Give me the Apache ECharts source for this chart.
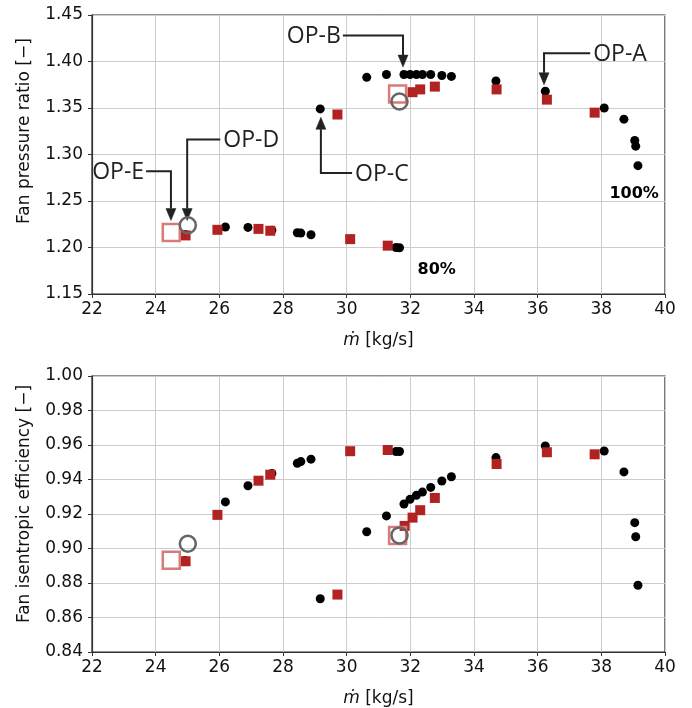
<!DOCTYPE html>
<html><head><meta charset="utf-8">
<script src="https://cdn.jsdelivr.net/npm/echarts@6/dist/echarts.min.js"></script>
<style>html,body{margin:0;padding:0;background:#fff}#c{width:692px;height:708px}</style>
</head><body><div id="c"></div><script>
// ---- data ----
const xTickLabels = ['22','24','26','28','30','32','34','36','38','40'];

// 100 % speed line, black circles (CFD)
const massBlack100 = [29.17, 30.63, 31.25, 31.80, 31.99, 32.19, 32.38, 32.64, 32.99, 33.29, 34.69, 36.24, 38.09, 38.71, 39.05, 39.08, 39.15];
const prBlack100   = [1.349, 1.383, 1.386, 1.386, 1.386, 1.386, 1.386, 1.386, 1.385, 1.384, 1.379, 1.368, 1.350, 1.338, 1.315, 1.309, 1.288];
const effBlack100  = [0.8709, 0.9097, 0.9189, 0.9258, 0.9285, 0.9308, 0.9327, 0.9354, 0.9391, 0.9416, 0.9527, 0.9594, 0.9565, 0.9444, 0.9150, 0.9068, 0.8787];

// 80 % speed line, black circles
const massBlack80 = [24.92, 26.19, 26.90, 27.65, 28.45, 28.56, 28.88, 31.55, 31.66];
const prBlack80   = [1.214, 1.222, 1.2216, 1.2186, 1.2158, 1.2155, 1.2137, 1.2000, 1.1997];
const effBlack80  = [0.8930, 0.9270, 0.9364, 0.9435, 0.9494, 0.9504, 0.9518, 0.9562, 0.9562];

// 100 % speed line, red squares
const massRed100 = [29.71, 31.82, 32.07, 32.31, 32.77, 34.71, 36.29, 37.79];
const prRed100   = [1.343, null, 1.367, 1.370, 1.373, 1.370, 1.359, 1.345];
const effRed100  = [0.8733, 0.9131, 0.9179, 0.9222, 0.9293, 0.9490, 0.9558, 0.9546];

// 80 % speed line, red squares
const massRed80 = [24.94, 25.94, 27.23, 27.60, 30.11, 31.29];
const prRed80   = [1.213, 1.219, 1.220, 1.218, 1.209, 1.202];
const effRed80  = [0.8926, 0.9195, 0.9393, 0.9428, 0.9564, 0.9571];

// highlighted operating points (open markers)
const massOpenSquare = [24.49, 31.60];
const prOpenSquare   = [1.216, 1.365];
const effOpenSquare  = [0.8932, 0.9075];
const massOpenCircle = [25.01, 31.66];
const prOpenCircle   = [1.224, 1.357];
const effOpenCircle  = [0.9028, 0.9076];

// annotations (data units of the upper chart)
const annLabels = ['OP-A', 'OP-B', 'OP-C', 'OP-D', 'OP-E'];
const annStartX = [37.65, 29.88, 30.17, 26.03, 23.70];
const annElbowX = [36.20, 31.77, 29.19, 24.99, 24.48];
const annLineY  = [1.409, 1.428, 1.280, 1.316, 1.282];
const annTipY   = [1.375, 1.394, 1.340, 1.229, 1.229];

const speedLabels = ['100%', '80%'];
const speedLabelX = [39.03, 32.83];
const speedLabelY = [1.258, 1.1765];

// ---- helpers ----
function pts(xs, ys) {
  const out = [];
  for (let i = 0; i < xs.length; i++) if (ys[i] != null) out.push([xs[i], ys[i]]);
  return out;
}

const FONT = 'DejaVu Sans';
function xAx(gi) {
  return {
    type: 'value', gridIndex: gi, min: 22, max: 40, interval: 2,
    axisLine: { show: true, onZero: false, lineStyle: { color: '#333', width: 1.2 } },
    axisTick: { show: true, length: 4, lineStyle: { color: '#333' } },
    axisLabel: { fontSize: 17, color: '#111', fontFamily: FONT, margin: 7,
      formatter: v => xTickLabels[Math.round((v - 22) / 2)] },
    splitLine: { show: true, lineStyle: { color: '#cccccc', width: 1 } },
    name: '{i|ṁ} [kg/s]', nameLocation: 'middle', nameGap: 38,
    nameTextStyle: { fontSize: 17, color: '#111', fontFamily: FONT,
      rich: { i: { fontSize: 17, fontStyle: 'italic', fontFamily: FONT, color: '#111' } } }
  };
}
function yAx(gi, min, max, interval, dec) {
  return {
    type: 'value', gridIndex: gi, min: min, max: max, interval: interval,
    axisLine: { show: true, onZero: false, lineStyle: { color: '#333', width: 1.2 } },
    axisTick: { show: true, length: 4, lineStyle: { color: '#333' } },
    axisLabel: { fontSize: 17, color: '#111', fontFamily: FONT, margin: 9,
      formatter: v => v.toFixed(dec) },
    splitLine: { show: true, lineStyle: { color: '#cccccc', width: 1 } }
  };
}

const blackStyle = { symbol: 'circle', symbolSize: 9, itemStyle: { color: '#000', opacity: 1 } };
const redStyle = { symbol: 'rect', symbolSize: 10, itemStyle: { color: '#b22222', opacity: 1 } };
const sqStyle = { symbol: 'rect', symbolSize: 17, itemStyle: { color: 'rgba(255,255,255,0)', borderColor: '#d97b7b', borderWidth: 2.5, opacity: 1 } };
const ciStyle = { symbol: 'circle', symbolSize: 16, itemStyle: { color: 'rgba(255,255,255,0)', borderColor: '#666', borderWidth: 2.5, opacity: 1 } };

function sc(gi, data, style) {
  return Object.assign({ type: 'scatter', xAxisIndex: gi, yAxisIndex: gi, data: data,
    silent: true, emphasis: { disabled: true } }, style);
}

const annData = annLabels.map((l, i) => [annStartX[i], annElbowX[i], annLineY[i], annTipY[i]]);

function renderAnn(params, api) {
  const i = params.dataIndex;
  const p0 = api.coord([api.value(0), api.value(2)]);
  const p1 = api.coord([api.value(1), api.value(2)]);
  const p2 = api.coord([api.value(1), api.value(3)]);
  const dir = p2[1] > p1[1] ? 1 : -1;
  const headL = 12, headW = 5;
  const base = [p2[0], p2[1] - dir * headL];
  const toRight = api.value(0) > api.value(1);
  return {
    type: 'group',
    children: [
      { type: 'polyline', shape: { points: [p0, p1, base] },
        style: { stroke: '#222', lineWidth: 2, fill: null } },
      { type: 'polygon', shape: { points: [[p2[0], p2[1]], [base[0] - headW, base[1]], [base[0] + headW, base[1]]] },
        style: { fill: '#222', stroke: '#222', lineWidth: 0.5 } },
      { type: 'text', x: p0[0] + (toRight ? 3 : -2), y: p0[1] + 1,
        style: { text: annLabels[i], font: '23px "Open Sans"', fill: '#222',
          textAlign: toRight ? 'left' : 'right', textVerticalAlign: 'middle' } }
    ]
  };
}

const option = {
  animation: false,
  backgroundColor: '#fff',
  grid: [
    { left: 92, right: 27, top: 15, height: 279, show: true, borderColor: '#222', borderWidth: 1.2, containLabel: false },
    { left: 92, right: 27, top: 376, height: 278, show: true, borderColor: '#222', borderWidth: 1.2, containLabel: false }
  ],
  xAxis: [xAx(0), xAx(1)],
  yAxis: [yAx(0, 1.15, 1.45, 0.05, 2), yAx(1, 0.84, 1.00, 0.02, 2)],
  graphic: [
    { type: 'text', x: 25, y: 131, rotation: Math.PI / 2,
      style: { text: 'Fan pressure ratio [−]', font: '17px "DejaVu Sans"', fill: '#111', textAlign: 'center', textVerticalAlign: 'middle' } },
    { type: 'text', x: 25, y: 504, rotation: Math.PI / 2,
      style: { text: 'Fan isentropic efficiency [−]', font: '17px "DejaVu Sans"', fill: '#111', textAlign: 'center', textVerticalAlign: 'middle' } }
  ],
  series: [
    sc(0, pts(massBlack100, prBlack100), blackStyle),
    sc(0, pts(massBlack80, prBlack80), blackStyle),
    sc(0, pts(massRed100, prRed100), redStyle),
    sc(0, pts(massRed80, prRed80), redStyle),
    sc(0, pts(massOpenSquare, prOpenSquare), sqStyle),
    sc(0, pts(massOpenCircle, prOpenCircle), ciStyle),
    sc(1, pts(massBlack100, effBlack100), blackStyle),
    sc(1, pts(massBlack80, effBlack80), blackStyle),
    sc(1, pts(massRed100, effRed100), redStyle),
    sc(1, pts(massRed80, effRed80), redStyle),
    sc(1, pts(massOpenSquare, effOpenSquare), sqStyle),
    sc(1, pts(massOpenCircle, effOpenCircle), ciStyle),
    { type: 'custom', xAxisIndex: 0, yAxisIndex: 0, data: annData, renderItem: renderAnn,
      silent: true, clip: false, encode: { x: [0, 1], y: [2, 3] } },
    { type: 'scatter', xAxisIndex: 0, yAxisIndex: 0, symbolSize: 0, silent: true,
      itemStyle: { opacity: 1 },
      data: speedLabels.map((l, i) => [speedLabelX[i], speedLabelY[i]]),
      label: { show: true, position: 'inside', formatter: p => speedLabels[p.dataIndex],
        fontSize: 16, fontWeight: 'bold', color: '#000', opacity: 1, fontFamily: FONT } }
  ]
};

const chart = echarts.init(document.getElementById('c'), null, { renderer: 'canvas' });
chart.setOption(option);
</script></body></html>
